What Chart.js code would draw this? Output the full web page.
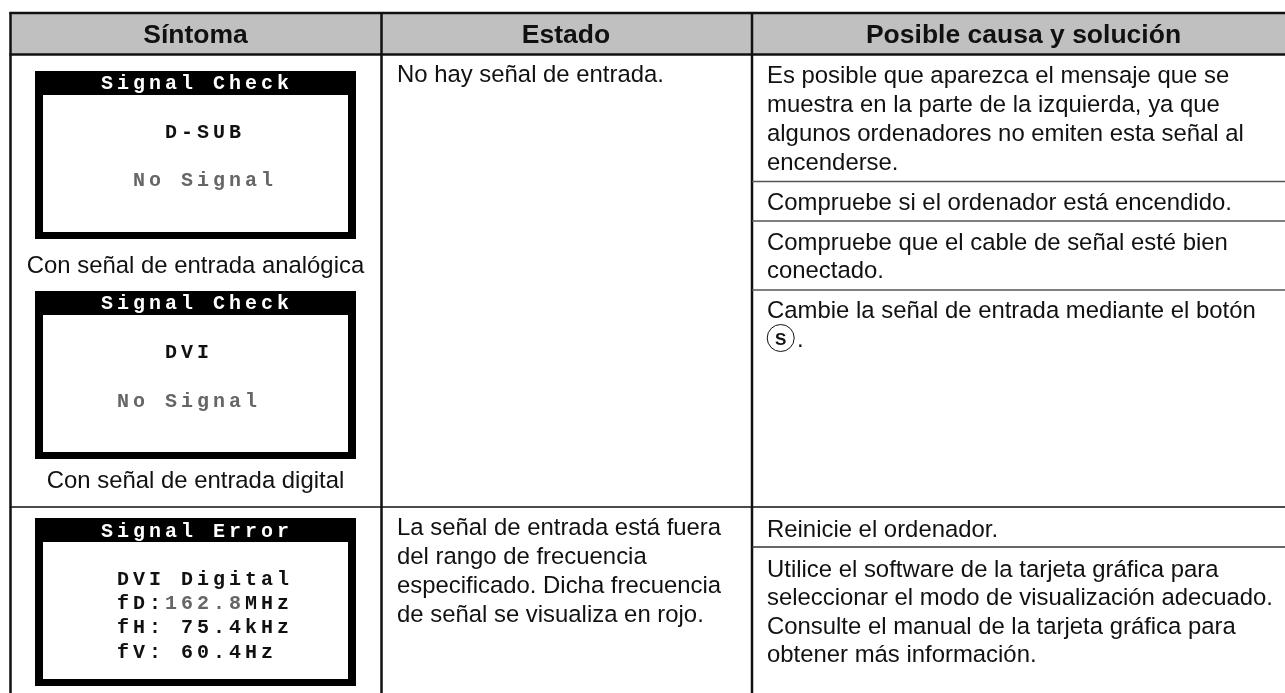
<!DOCTYPE html>
<html lang="es">
<head>
<meta charset="utf-8">
<title>Síntoma, estado y solución</title>
<script src="https://cdn.jsdelivr.net/npm/chart.js@4/dist/chart.umd.min.js"></script>
<style>
  html, body { margin: 0; padding: 0; background: #fff; }
  canvas { display: block; }
</style>
</head>
<body>
<canvas id="tabla" width="1285" height="693"></canvas>
<script>
// Table content
const headerLabels = ['Síntoma', 'Estado', 'Posible causa y solución'];
const headerCentres = [195.5, 566, 1023.5];

const captionLabels = ['Con señal de entrada analógica', 'Con señal de entrada digital'];
const captionBaselines = [273, 488];

const statusLines = [
  'No hay señal de entrada.',
  'La señal de entrada está fuera',
  'del rango de frecuencia',
  'especificado. Dicha frecuencia',
  'de señal se visualiza en rojo.',
];
const statusBaselines = [82, 535, 564, 593, 622];

const causeLines = [
  'Es posible que aparezca el mensaje que se',
  'muestra en la parte de la izquierda, ya que',
  'algunos ordenadores no emiten esta señal al',
  'encenderse.',
  'Compruebe si el ordenador está encendido.',
  'Compruebe que el cable de señal esté bien',
  'conectado.',
  'Cambie la señal de entrada mediante el botón',
  'Reinicie el ordenador.',
  'Utilice el software de la tarjeta gráfica para',
  'seleccionar el modo de visualización adecuado.',
  'Consulte el manual de la tarjeta gráfica para',
  'obtener más información.',
];
const causeBaselines = [83, 112, 141, 170, 210, 250, 278, 318, 537, 577, 605, 634, 662];

// Monitor message boxes, one row per screen
const osdTitles = ['Signal Check', 'Signal Check', 'Signal Error'];
const osdTop = [71, 291, 518];
const osdBottom = [239, 459, 686];
const osdInnerTop = [95, 315, 542];
const osdInnerBottom = [232, 452, 679];
const osdTitleBaselines = [89, 309, 537];

const osdLines = ['D-SUB', 'No Signal', 'DVI', 'No Signal', 'DVI Digital', 'fD:', '162.8', 'MHz', 'fH: 75.4kHz', 'fV: 60.4Hz'];
const osdLineCells = [4, 2, 4, 1, 1, 1, 4, 9, 1, 1];
const osdLineBaselines = [138, 186, 358, 407, 585, 609, 609, 609, 633, 658];
const osdLineDim = [false, true, false, true, false, false, true, false, false, false];

// Rules
const columnRules = [10.5, 381.5, 752];
const rowRules = [181.5, 221, 290, 507, 547];
const rowRuleStart = [752, 752, 752, 10.5, 752];
const rowRuleColour = ['#555', '#555', '#555', '#111', '#333'];

const FONT = '"Liberation Sans", Arial, sans-serif';
const MONO = '"Liberation Mono", monospace';
const BODY = '23.9px ' + FONT;

function box(left, right, top, bottom) {
  return [{ x: left, y: top }, { x: right, y: top }, { x: right, y: bottom }, { x: left, y: bottom }, { x: left, y: top }];
}

function filled(points, colour) {
  return { data: box(...points), showLine: true, fill: 'shape', backgroundColor: colour, borderWidth: 0, pointRadius: 0 };
}

function rule(x0, y0, x1, y1, colour, width) {
  return { data: [{ x: x0, y: y0 }, { x: x1, y: y1 }], showLine: true, borderColor: colour, borderWidth: width, pointRadius: 0, fill: false };
}

const datasets = [];
datasets.push(filled([10, 1285, 13, 55], '#c0c0c0'));
osdTop.forEach((top, i) => {
  datasets.push(filled([35, 356, top, osdBottom[i]], '#000'));
  datasets.push(filled([43, 348, osdInnerTop[i], osdInnerBottom[i]], '#fff'));
});
datasets.push(rule(9.5, 13, 1285, 13, '#111', 2.5));
datasets.push(rule(9.5, 54.5, 1285, 54.5, '#111', 2.5));
columnRules.forEach(x => datasets.push(rule(x, 12, x, 693, '#111', 2.5)));
rowRules.forEach((y, i) => datasets.push(rule(rowRuleStart[i], y, 1285, y, rowRuleColour[i], 1.5)));
datasets.push({ data: [{ x: 780.7, y: 338 }], pointRadius: 13.5, pointBackgroundColor: '#fff', pointBorderColor: '#111', pointBorderWidth: 1 });
// Chart.js paints the first dataset last, so flip to keep the layering above
datasets.reverse();

const tableText = {
  id: 'tableText',
  afterDatasetsDraw(chart) {
    const { ctx, scales } = chart;
    const put = (text, x, y, font, colour, align, spacing) => {
      ctx.font = font;
      ctx.fillStyle = colour;
      ctx.textAlign = align || 'left';
      ctx.letterSpacing = spacing || '0px';
      ctx.fillText(text, scales.x.getPixelForValue(x), scales.y.getPixelForValue(y));
    };
    ctx.save();
    ctx.textBaseline = 'alphabetic';

    headerLabels.forEach((t, i) => put(t, headerCentres[i], 43, 'bold 26.5px ' + FONT, '#111', 'center'));
    captionLabels.forEach((t, i) => put(t, 195.5, captionBaselines[i], BODY, '#111', 'center'));
    statusLines.forEach((t, i) => put(t, 397, statusBaselines[i], BODY, '#111'));
    causeLines.forEach((t, i) => put(t, 767, causeBaselines[i], BODY, '#111'));
    put('S', 780.7, 344.5, 'bold 17px ' + FONT, '#111', 'center');
    put('.', 797, 347, BODY, '#111');

    // 16px character grid inside the message boxes
    const cellWidth = 16;
    const osdFont = 'bold 20px ' + MONO;
    const spacing = '4px';
    osdTitles.forEach((t, i) => put(t, 101, osdTitleBaselines[i], osdFont, '#fff', 'left', spacing));
    osdLines.forEach((t, i) => {
      const dim = osdLineDim[i];
      put(t, 101 + osdLineCells[i] * cellWidth, osdLineBaselines[i], osdFont, dim ? '#666' : '#111', 'left', spacing);
    });
    ctx.restore();
  },
};

new Chart(document.getElementById('tabla'), {
  type: 'scatter',
  data: { datasets },
  options: {
    responsive: false,
    animation: false,
    layout: { padding: 0, autoPadding: false },
    plugins: { legend: { display: false }, tooltip: { enabled: false } },
    scales: {
      x: { type: 'linear', min: 0, max: 1285, display: false },
      y: { type: 'linear', min: 0, max: 693, reverse: true, display: false },
    },
  },
  plugins: [tableText],
});
</script>
</body>
</html>
